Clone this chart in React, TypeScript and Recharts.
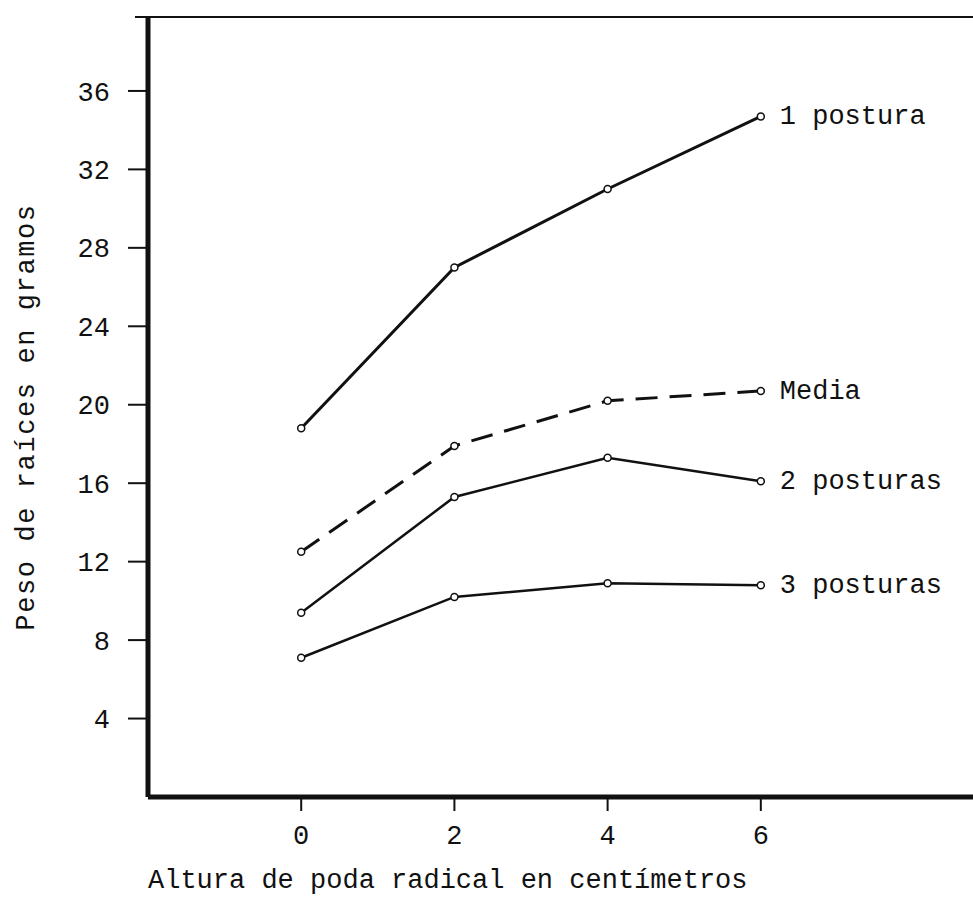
import React from "react";
import { LineChart, Line, XAxis, YAxis, LabelList } from "recharts";

const alturas = [0, 2, 4, 6];
const unaPostura = [18.8, 27.0, 31.0, 34.7];
const media = [12.5, 17.9, 20.2, 20.7];
const dosPosturas = [9.4, 15.3, 17.3, 16.1];
const tresPosturas = [7.1, 10.2, 10.9, 10.8];
const yTicks = [4, 8, 12, 16, 20, 24, 28, 32, 36];
const xTicks = [0, 2, 4, 6];

const FONT = "'Liberation Mono', 'DejaVu Sans Mono', monospace";

const Data = alturas.map((x, i) => ({
  x,
  p1: unaPostura[i],
  media: media[i],
  p2: dosPosturas[i],
  p3: tresPosturas[i],
}));

const endLabel = (name: string) => (props: any) => {
  const { x, y, index } = props;
  if (index !== alturas.length - 1) return null;
  return (
    <text x={x + 19} y={y + 8} fontFamily={FONT} fontSize={27} fill="#111">
      {name}
    </text>
  );
};

const dot = { r: 3.5, stroke: "#111", strokeWidth: 1.5, fill: "#fff" };

const App = () => {
  return (
    <div style={{ position: "absolute", left: 0, top: 0, width: 973, height: 913, background: "#fff" }}>
      {/* top frame line of the plot box */}
      <div style={{ position: "absolute", left: 135, top: 16, width: 838, height: 2, background: "#111" }} />
      <LineChart width={973} height={913} data={Data} margin={{ top: 17, right: 0, left: 0, bottom: 0 }}>
        <XAxis
          type="number"
          dataKey="x"
          domain={[-2, 8.77]}
          ticks={xTicks}
          allowDataOverflow
          height={116}
          tickSize={14}
          tickMargin={14}
          axisLine={{ stroke: "#111", strokeWidth: 5 }}
          tickLine={{ stroke: "#111", strokeWidth: 2 }}
          tick={{ fill: "#111", fontFamily: FONT, fontSize: 27 }}
          label={(props: any) => {
            const vb = props.viewBox;
            return (
              <text x={vb.x} y={vb.y + 91} fontFamily={FONT} fontSize={27} fill="#111">
                Altura de poda radical en centímetros
              </text>
            );
          }}
        />
        <YAxis
          type="number"
          domain={[0, 39.77]}
          ticks={yTicks}
          width={148}
          tickSize={20}
          tickMargin={18}
          axisLine={{ stroke: "#111", strokeWidth: 5 }}
          tickLine={{ stroke: "#111", strokeWidth: 2 }}
          tick={{ fill: "#111", fontFamily: FONT, fontSize: 27 }}
          label={(props: any) => {
            const vb = props.viewBox;
            const cx = vb.x + 34;
            const cy = vb.y + vb.height / 2 + 10;
            return (
              <text
                x={cx}
                y={cy}
                transform={`rotate(-90 ${cx} ${cy})`}
                textAnchor="middle"
                fontFamily={FONT}
                fontSize={27}
                letterSpacing={1.6}
                fill="#111"
              >
                Peso de raíces en gramos
              </text>
            );
          }}
        />
        <Line dataKey="p1" stroke="#111" strokeWidth={3} dot={dot} isAnimationActive={false}>
          <LabelList dataKey="p1" content={endLabel("1 postura")} />
        </Line>
        <Line dataKey="media" stroke="#111" strokeWidth={3} strokeDasharray="22 12" dot={dot} isAnimationActive={false}>
          <LabelList dataKey="media" content={endLabel("Media")} />
        </Line>
        <Line dataKey="p2" stroke="#111" strokeWidth={2.5} dot={dot} isAnimationActive={false}>
          <LabelList dataKey="p2" content={endLabel("2 posturas")} />
        </Line>
        <Line dataKey="p3" stroke="#111" strokeWidth={2.5} dot={dot} isAnimationActive={false}>
          <LabelList dataKey="p3" content={endLabel("3 posturas")} />
        </Line>
      </LineChart>
    </div>
  );
};

export default App;
